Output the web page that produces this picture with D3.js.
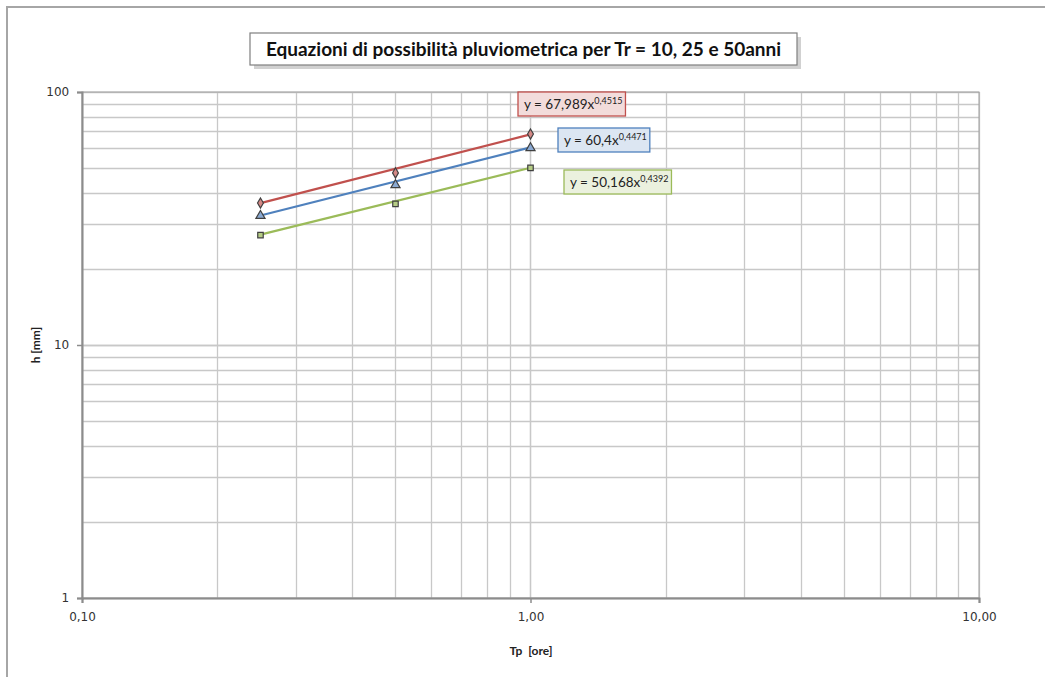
<!DOCTYPE html>
<html lang="it">
<head>
<meta charset="utf-8">
<title>Equazioni di possibilità pluviometrica</title>
<script src="https://d3js.org/d3.v7.min.js"></script>
<style>
  body { margin: 0; background: #fff; }
  text { font-family: "DejaVu Sans", Verdana, sans-serif; }
  .cal { font-family: Lato, "Open Sans", sans-serif; }
</style>
</head>
<body>
<svg id="chart" width="1045" height="677"></svg>
<script>
// data
var durations = [0.25, 0.5, 1];
var h10 = [27.2, 36.1, 50.1];
var h25 = [32.4, 42.9, 60.1];
var h50 = [36.4, 47.9, 68.2];
// trendline coefficients shown in the labels (y = a x^b)
var coefA = [50.168, 60.4, 67.989];
var coefB = [0.4392, 0.4471, 0.4515];
var labelA = ["50,168", "60,4", "67,989"];
var labelB = ["0,4392", "0,4471", "0,4515"];
var xTicks = [0.1, 1, 10];
var xTickLabels = ["0,10", "1,00", "10,00"];
var yTicks = [1, 10, 100];

var series = [
  { values: h10, line: "#9BBB59", fill: "#b5cc85", box: "#EBF1DE", shape: d3.symbolSquare, lx: 564, ly: 170 },
  { values: h25, line: "#4F81BD", fill: "#8aa9d2", box: "#DCE6F2", shape: d3.symbolTriangle, lx: 558, ly: 128 },
  { values: h50, line: "#C0504D", fill: "#d48986", box: "#F2DCDB", shape: d3.symbolDiamond, lx: 518, ly: 92 }
];

var svg = d3.select("#chart");
var plotLeft = 82, plotRight = 979, plotTop = 92, plotBottom = 598;

// outer chart frame (only top/left visible)
svg.append("path").attr("d", "M7,677 L7,7 L1045,7")
  .attr("fill", "none").attr("stroke", "#a6a6a6").attr("stroke-width", 2);

var x = d3.scaleLog().domain([0.1, 10]).range([plotLeft, plotRight]);
var y = d3.scaleLog().domain([1, 100]).range([plotBottom, plotTop]);

var xGrid = [], yGrid = [];
[0.1, 1].forEach(function(d) { for (var i = 1; i <= 10; i++) xGrid.push(d * i); });
[1, 10].forEach(function(d) { for (var i = 1; i <= 10; i++) yGrid.push(d * i); });

var grid = svg.append("g");
grid.selectAll("line.v").data(xGrid).enter().append("line")
  .attr("x1", function(d) { return Math.round(x(d)) + 0.5; })
  .attr("x2", function(d) { return Math.round(x(d)) + 0.5; })
  .attr("y1", plotTop).attr("y2", plotBottom)
  .attr("stroke", "#c8c8c8").attr("stroke-width", 1.3);
grid.selectAll("line.h").data(yGrid).enter().append("line")
  .attr("y1", function(d) { return Math.round(y(d)) + 0.5; })
  .attr("y2", function(d) { return Math.round(y(d)) + 0.5; })
  .attr("x1", plotLeft).attr("x2", plotRight)
  .attr("stroke", "#c8c8c8").attr("stroke-width", 1.3);

// plot frame
svg.append("rect").attr("x", plotLeft).attr("y", plotTop)
  .attr("width", plotRight - plotLeft).attr("height", plotBottom - plotTop)
  .attr("fill", "none").attr("stroke", "#a0a0a0").attr("stroke-width", 1);

// axes
var xAxis = d3.axisBottom(x).tickValues(xTicks).tickSize(5)
  .tickFormat(function(d, i) { return xTickLabels[i]; });
var gx = svg.append("g").attr("transform", "translate(0," + plotBottom + ")").call(xAxis);
gx.select(".domain").attr("stroke", "#8c8c8c").attr("stroke-width", 2);
gx.selectAll(".tick line").attr("stroke", "#8c8c8c").attr("stroke-width", 1.5);
gx.selectAll(".tick text").attr("font-size", 12).attr("fill", "#333").attr("dy", "1.25em")
  .attr("font-family", "DejaVu Sans, sans-serif");

var yAxis = d3.axisLeft(y).tickValues(yTicks).tickSize(5).tickFormat(d3.format("d"));
var gy = svg.append("g").attr("transform", "translate(" + plotLeft + ",0)").call(yAxis);
gy.select(".domain").attr("stroke", "#8c8c8c").attr("stroke-width", 2);
gy.selectAll(".tick line").attr("stroke", "#8c8c8c").attr("stroke-width", 1.5);
gy.selectAll(".tick text").attr("font-size", 12).attr("fill", "#333").attr("dx", "-0.4em")
  .attr("font-family", "DejaVu Sans, sans-serif");

// axis titles
svg.append("text").attr("class", "cal").attr("x", 531).attr("y", 655)
  .attr("text-anchor", "middle").attr("font-size", 12).attr("font-weight", "bold")
  .attr("fill", "#222").attr("xml:space", "preserve").text("Tp  [ore]");
svg.append("text").attr("class", "cal")
  .attr("transform", "translate(40,345) rotate(-90)")
  .attr("text-anchor", "middle").attr("font-size", 12).attr("font-weight", "bold")
  .attr("fill", "#222").text("h [mm]");

// trendlines and markers
series.forEach(function(s, i) {
  var xs = [d3.min(durations), d3.max(durations)];
  svg.append("line")
    .attr("x1", x(xs[0])).attr("y1", y(coefA[i] * Math.pow(xs[0], coefB[i])))
    .attr("x2", x(xs[1])).attr("y2", y(coefA[i] * Math.pow(xs[1], coefB[i])))
    .attr("stroke", s.line).attr("stroke-width", 2.2);
  svg.selectAll(null).data(s.values).enter().append("path")
    .attr("transform", function(d, j) { return "translate(" + x(durations[j]) + "," + y(d) + ")"; })
    .attr("d", d3.symbol().type(s.shape).size(s.shape === d3.symbolTriangle ? 36 : 30))
    .attr("fill", s.fill).attr("stroke", "#404040").attr("stroke-width", 1.2);
});

// trendline equation labels
series.forEach(function(s, i) {
  var g = svg.append("g").attr("transform", "translate(" + s.lx + "," + s.ly + ")");
  var t = g.append("text").attr("class", "cal").attr("x", 6).attr("y", 17)
    .attr("font-size", 13.5).attr("fill", "#222");
  t.append("tspan").text("y = " + labelA[i] + "x");
  t.append("tspan").attr("dy", -5).attr("font-size", 9).text(labelB[i]);
  var w = t.node().getComputedTextLength() + 9;
  g.insert("rect", "text").attr("x", 0).attr("y", 0).attr("width", w).attr("height", 24)
    .attr("fill", s.box).attr("stroke", s.line).attr("stroke-width", 1.3);
});

// title with shadow box
var tg = svg.append("g");
tg.append("rect").attr("x", 254).attr("y", 37).attr("width", 547).attr("height", 32)
  .attr("fill", "#bdbdbd").attr("opacity", 0.7);
tg.append("rect").attr("x", 250).attr("y", 33).attr("width", 547).attr("height", 32)
  .attr("fill", "#fff").attr("stroke", "#7f7f7f").attr("stroke-width", 1.2);
tg.append("text").attr("class", "cal").attr("x", 523.5).attr("y", 56)
  .attr("text-anchor", "middle").attr("font-size", 19).attr("font-weight", "bold")
  .attr("fill", "#111").text("Equazioni di possibilità pluviometrica per Tr = 10, 25 e 50anni");
</script>
</body>
</html>
